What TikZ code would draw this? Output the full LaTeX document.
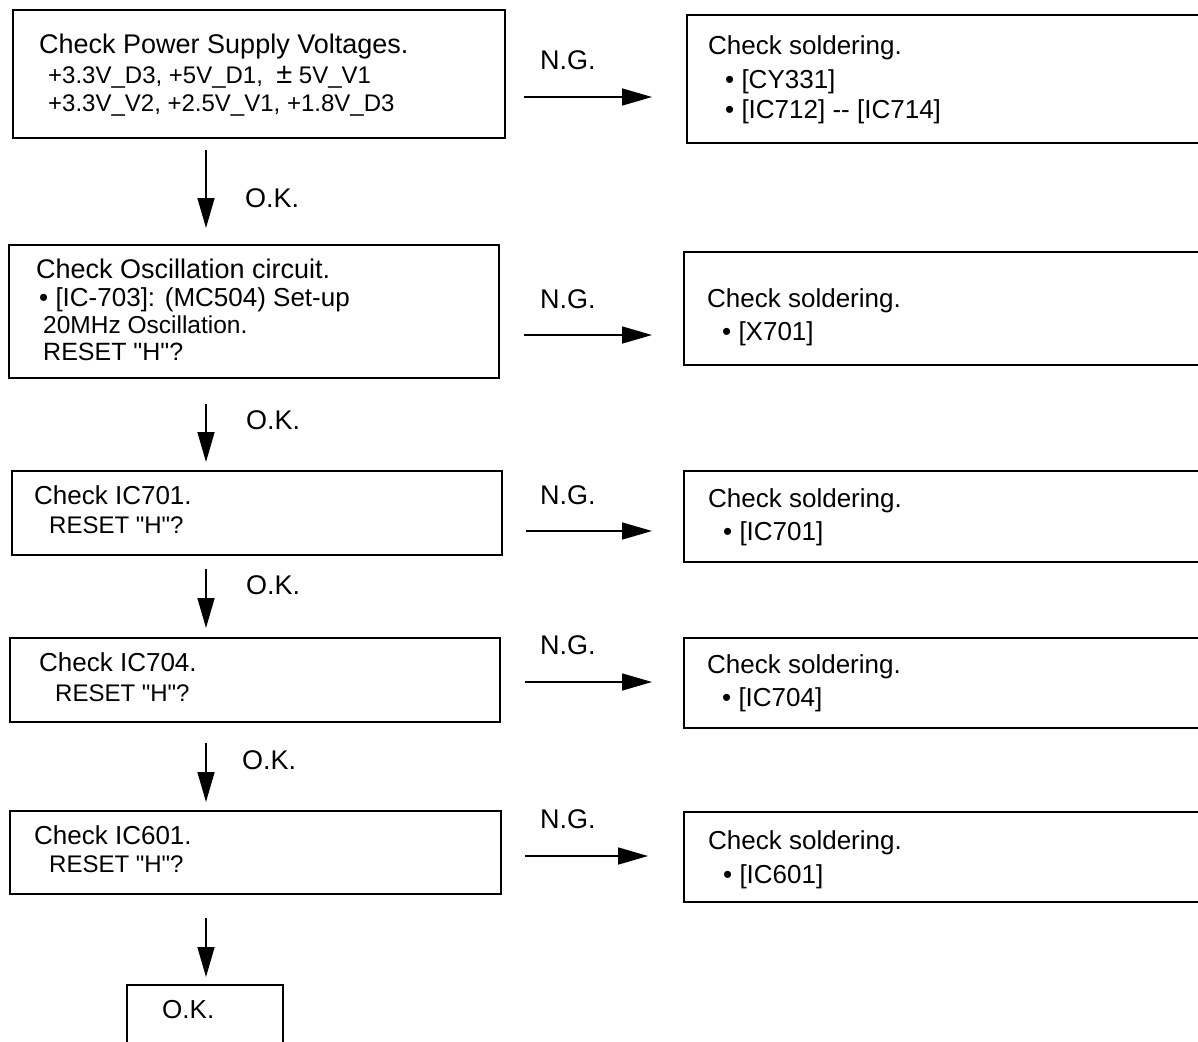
\documentclass[tikz,border=0pt]{standalone}
\usepackage{fontspec}
\setmainfont{Liberation Sans}[Ligatures=TeXOff]
\usetikzlibrary{arrows.meta}

\tikzset{
  boxl/.style={draw, line width=2pt, inner sep=0pt, anchor=north west},
  flow/.style={line width=1.6pt, -{Triangle[length=30pt,width=17pt]}},
  txt/.style={anchor=base west, inner sep=0pt},
  lbl/.style={txt, font=\fontsize{27}{32}\selectfont},
  soldtxt/.style={txt, font=\fontsize{26}{30}\selectfont},
  headtxt/.style={txt, font=\fontsize{26}{30}\selectfont},
  subtxt/.style={txt, font=\fontsize{24}{28}\selectfont}
}

\begin{document}
\begin{tikzpicture}[x=1pt, y=-1pt]
\useasboundingbox (0,0) rectangle (1198,1041);

% left column
\node[boxl, minimum width=492pt, minimum height=128pt] (b1) at (12,9) {};
\node[boxl, minimum width=490pt, minimum height=133pt] (b2) at (8,244) {};
\node[boxl, minimum width=490pt, minimum height=84pt] (b3) at (11,470) {};
\node[boxl, minimum width=490pt, minimum height=84pt] (b4) at (9,637) {};
\node[boxl, minimum width=491pt, minimum height=83pt] (b5) at (9,810) {};
\node[boxl, minimum width=156pt, minimum height=80pt] (okbox) at (126,984) {};

% right column
\node[boxl, minimum width=540pt, minimum height=128pt] (r1) at (686,14) {};
\node[boxl, minimum width=540pt, minimum height=113pt] (r2) at (683,251) {};
\node[boxl, minimum width=540pt, minimum height=91pt] (r3) at (683,470) {};
\node[boxl, minimum width=540pt, minimum height=90pt] (r4) at (683,637) {};
\node[boxl, minimum width=540pt, minimum height=90pt] (r5) at (683,811) {};

% texts
\node[txt, font=\fontsize{27}{32}\selectfont] (t1) at (39,54) {Check Power Supply Voltages.};
\node[subtxt] (t1a) at (48,83) {+3.3V\_D3, +5V\_D1, \ {\fontsize{29}{28}\selectfont ±}\ 5V\_V1};
\node[subtxt] (t1b) at (48,111) {+3.3V\_V2, +2.5V\_V1, +1.8V\_D3};

\node[txt, font=\fontsize{27}{32}\selectfont] (t2) at (36,278) {Check Oscillation circuit.};
\node[headtxt] (t2a) at (39,306) {• [IC-703]: (MC504) Set-up};
\node[txt, font=\fontsize{24.5}{28}\selectfont] (t2b) at (43,333) {20MHz Oscillation.};
\node[txt, font=\fontsize{25}{28}\selectfont] (t2c) at (43,360) {RESET "H"?};

\node[headtxt] (t3) at (34,504) {Check IC701.};
\node[subtxt] (t3a) at (49,533) {RESET "H"?};
\node[headtxt] (t4) at (39,671) {Check IC704.};
\node[subtxt] (t4a) at (55,701) {RESET "H"?};
\node[headtxt] (t5) at (34,844) {Check IC601.};
\node[subtxt] (t5a) at (49,872) {RESET "H"?};

\node[soldtxt] (s1) at (708,55) {Check soldering.};
\node[soldtxt] (s1a) at (725,88) {• [CY331]};
\node[soldtxt] (s1b) at (725,118) {• [IC712] -- [IC714]};
\node[soldtxt] (s2) at (707,307) {Check soldering.};
\node[soldtxt] (s2a) at (722,340) {• [X701]};
\node[soldtxt] (s3) at (708,507) {Check soldering.};
\node[soldtxt] (s3a) at (723,540) {• [IC701]};
\node[soldtxt] (s4) at (707,673) {Check soldering.};
\node[soldtxt] (s4a) at (722,706) {• [IC704]};
\node[soldtxt] (s5) at (708,849) {Check soldering.};
\node[soldtxt] (s5a) at (723,883) {• [IC601]};

\node[soldtxt] (okt) at (162,1018) {O.K.};

% O.K. arrows
\coordinate (okx) at (206,0);
\draw[flow, shorten <=11pt, shorten >=16pt] (b1.south -| okx) -- (b2.north -| okx);
\draw[flow, shorten <=25pt, shorten >=8pt] (b2.south -| okx) -- (b3.north -| okx);
\draw[flow, shorten <=13pt, shorten >=9pt] (b3.south -| okx) -- (b4.north -| okx);
\draw[flow, shorten <=20pt, shorten >=8pt] (b4.south -| okx) -- (b5.north -| okx);
\draw[flow, shorten <=23pt, shorten >=7pt] (b5.south -| okx) -- (okbox.north -| okx);

\node[lbl] (ok1) at (245,207) {O.K.};
\node[lbl] (ok2) at (246,429) {O.K.};
\node[lbl] (ok3) at (246,594) {O.K.};
\node[lbl] (ok4) at (242,769) {O.K.};

% N.G. arrows
\draw[flow, shorten <=18pt, shorten >=34pt] (b1.east |- 0,97) -- (r1.west |- 0,97);
\draw[flow, shorten <=24pt, shorten >=31pt] (b2.east |- 0,335) -- (r2.west |- 0,335);
\draw[flow, shorten <=23pt, shorten >=31pt] (b3.east |- 0,531) -- (r3.west |- 0,531);
\draw[flow, shorten <=24pt, shorten >=31pt] (b4.east |- 0,682) -- (r4.west |- 0,682);
\draw[flow, shorten <=23pt, shorten >=35pt] (b5.east |- 0,856) -- (r5.west |- 0,856);

\node[lbl] (ng1) at (540,70) {N.G.};
\node[lbl] (ng2) at (540,308) {N.G.};
\node[lbl] (ng3) at (540,504) {N.G.};
\node[lbl] (ng4) at (540,654) {N.G.};
\node[lbl] (ng5) at (540,828) {N.G.};
\end{tikzpicture}
\end{document}
